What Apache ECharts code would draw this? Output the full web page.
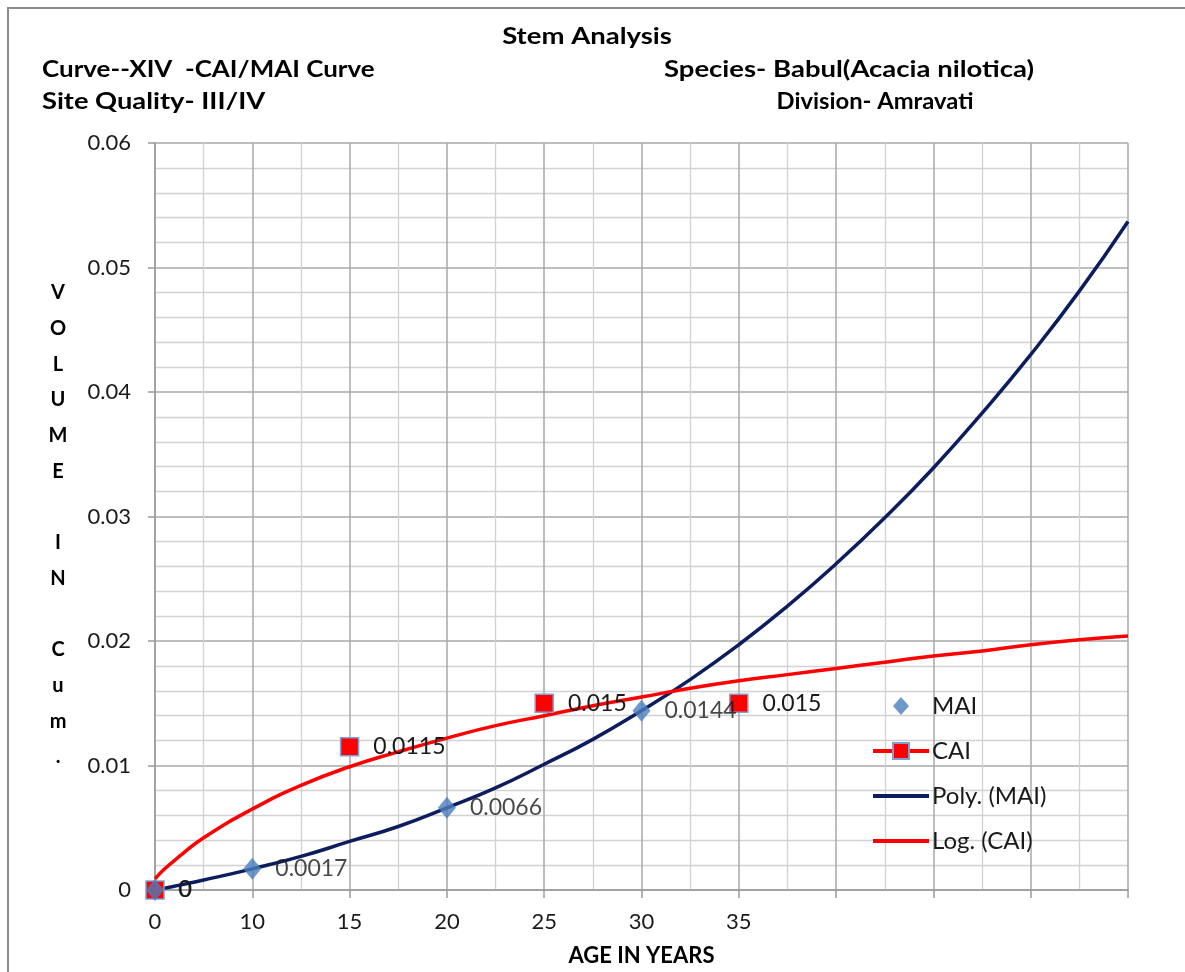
<!DOCTYPE html>
<html>
<head>
<meta charset="utf-8">
<style>
html,body{margin:0;padding:0;background:#fff;overflow:hidden;}
#chart{width:1185px;height:972px;}
</style>
<script src="https://cdn.jsdelivr.net/npm/echarts@6.0.0/dist/echarts.min.js"></script>
</head>
<body>
<div id="chart"></div>
<script>
// ---- data ----
const ageLabels = ['0', '10', '15', '20', '25', '30', '35', '', '', '', ''];
const maiValues = [0, 0.0017, null, 0.0066, null, 0.0144, null];
const caiValues = [0, null, 0.0115, null, 0.015, null, 0.015];
// trend-line readings (x in category steps along the age axis)
const trendSteps = [0, 0.1, 0.25, 0.5, 1, 1.5, 2, 2.5, 3, 3.5, 4, 4.5, 5, 5.5, 6, 6.5, 7, 7.5, 8, 8.5, 9, 9.5, 10];
const polyMaiTrend = [0, 0.00015, 0.00039, 0.0008, 0.0017, 0.0027, 0.0039, 0.0051, 0.0066, 0.0082, 0.0101, 0.0121, 0.0144, 0.0169, 0.0197, 0.0228, 0.0262, 0.0299, 0.0339, 0.0383, 0.0430, 0.0481, 0.0537];
const logCaiTrend = [0.0009, 0.0017, 0.0027, 0.0042, 0.0065, 0.0084, 0.0099, 0.0111, 0.0122, 0.0132, 0.0140, 0.0148, 0.0155, 0.0162, 0.0168, 0.0173, 0.0178, 0.0183, 0.0188, 0.0192, 0.0197, 0.0201, 0.0204];
const yTicks = { min: 0, max: 0.06, interval: 0.01 };

const FONT = 'Lato, "Liberation Sans", sans-serif';
const chart = echarts.init(document.getElementById('chart'), null, { renderer: 'canvas', width: 1185, height: 972 });

const maiData = maiValues.map((v, i) => [i, v]).filter(d => d[1] !== null);
const caiData = caiValues.map((v, i) => [i, v === null ? '-' : v]);
const polyData = trendSteps.map((x, i) => [x, polyMaiTrend[i]]);
const logData = trendSteps.map((x, i) => [x, logCaiTrend[i]]);

const lineIcon = 'path://M0,0M56,20M0,8H56V12H0Z';
const diamondIcon = 'path://M0,0M56,20M28,1L36,10L28,19L20,10Z';
const titleFont = 'bold 22px ' + FONT;

const option = {
  backgroundColor: '#ffffff',
  animation: false,
  textStyle: { fontFamily: FONT },
  graphic: [
    { type: 'rect', shape: { x: 8, y: 8, width: 1200, height: 1000 }, style: { fill: 'none', stroke: '#8c8c8c', lineWidth: 2 }, silent: true },
    { type: 'text', x: 587, y: 37, scaleX: 1.25, style: { text: 'Stem Analysis', font: titleFont, fill: '#000', textAlign: 'center', textVerticalAlign: 'middle' } },
    { type: 'text', x: 42, y: 70, scaleX: 1.18, style: { text: 'Curve--XIV  -CAI/MAI Curve', font: titleFont, fill: '#000', textAlign: 'left', textVerticalAlign: 'middle' } },
    { type: 'text', x: 42, y: 102, scaleX: 1.24, style: { text: 'Site Quality- III/IV', font: titleFont, fill: '#000', textAlign: 'left', textVerticalAlign: 'middle' } },
    { type: 'text', x: 849, y: 70, scaleX: 1.25, style: { text: 'Species- Babul(Acacia nilotica)', font: titleFont, fill: '#000', textAlign: 'center', textVerticalAlign: 'middle' } },
    { type: 'text', x: 875, y: 102, scaleX: 1.08, style: { text: 'Division- Amravati', font: titleFont, fill: '#000', textAlign: 'center', textVerticalAlign: 'middle' } },
    { type: 'text', x: 58, y: 275, style: { text: 'V\nO\nL\nU\nM\nE\n\nI\nN\n\nC\nu\nm\n.', font: 'bold 20px ' + FONT, lineHeight: 35.7, fill: '#000', textAlign: 'center', textVerticalAlign: 'top' } }
  ],
  grid: { left: 155, width: 973, top: 143, height: 754, containLabel: false },
  legend: {
    orient: 'vertical',
    left: 871,
    top: 694,
    padding: 0,
    itemWidth: 56,
    itemHeight: 20,
    itemGap: 21,
    symbolKeepAspect: true,
    lineStyle: { width: 4 },
    textStyle: { fontSize: 24, color: '#1a1a1a', fontFamily: FONT, padding: [0, 0, 0, -2] },
    data: [
      { name: 'MAI', icon: diamondIcon },
      { name: 'CAI' },
      { name: 'Poly. (MAI)', icon: lineIcon },
      { name: 'Log. (CAI)', icon: lineIcon }
    ]
  },
  xAxis: {
    type: 'value',
    min: 0,
    max: ageLabels.length - 1,
    interval: 1,
    name: 'AGE IN YEARS',
    nameLocation: 'middle',
    nameGap: 55,
    nameTextStyle: { fontSize: 22, fontWeight: 'bold', color: '#000', fontFamily: FONT },
    axisLine: { show: true, onZero: false, lineStyle: { color: '#9a9a9a', width: 1.5 } },
    axisTick: { show: true, length: 8, lineStyle: { color: '#9a9a9a', width: 1.5 } },
    axisLabel: {
      margin: 21,
      fontSize: 22,
      color: '#1a1a1a',
      fontFamily: FONT,
      formatter: v => { const i = Math.round(v); return ageLabels[i] !== undefined ? ageLabels[i] : ''; }
    },
    splitLine: { show: true, lineStyle: { color: '#a8a8a8', width: 1.5 } },
    minorTick: { show: false, splitNumber: 2 },
    minorSplitLine: { show: true, lineStyle: { color: '#d2d2d2', width: 1.3 } }
  },
  yAxis: {
    type: 'value',
    min: yTicks.min,
    max: yTicks.max,
    interval: yTicks.interval,
    axisLine: { show: true, lineStyle: { color: '#9a9a9a', width: 1.5 } },
    axisTick: { show: true, length: 7, lineStyle: { color: '#9a9a9a', width: 1.5 } },
    axisLabel: { margin: 24, fontSize: 22, color: '#1a1a1a', fontFamily: FONT },
    splitLine: { show: true, lineStyle: { color: '#a8a8a8', width: 1.5 } },
    minorTick: { show: false, splitNumber: 5 },
    minorSplitLine: { show: true, lineStyle: { color: '#d2d2d2', width: 1.3 } }
  },
  series: [
    {
      name: 'Poly. (MAI)',
      type: 'line',
      data: polyData,
      smooth: 0.5,
      symbol: 'none',
      lineStyle: { color: '#0C1D5F', width: 3.5 },
      itemStyle: { color: '#0C1D5F' },
      z: 3
    },
    {
      name: 'Log. (CAI)',
      type: 'line',
      data: logData,
      smooth: 0.5,
      symbol: 'none',
      lineStyle: { color: '#FF0000', width: 3.5 },
      itemStyle: { color: '#FF0000' },
      z: 3
    },
    {
      name: 'CAI',
      type: 'line',
      data: caiData,
      connectNulls: false,
      symbol: 'rect',
      symbolSize: 18,
      showAllSymbol: true,
      lineStyle: { color: '#FF0000', width: 4 },
      itemStyle: { color: '#FF0000', borderColor: '#7FA0D0', borderWidth: 1.5 },
      label: { show: true, position: 'right', distance: 14, fontSize: 23, color: '#1a1a1a', fontFamily: FONT },
      z: 4
    },
    {
      name: 'MAI',
      type: 'scatter',
      data: maiData,
      symbol: 'diamond',
      symbolSize: [18, 22],
      itemStyle: { color: '#4A7EBB' },
      label: { show: true, position: 'right', distance: 14, fontSize: 23, color: '#1a1a1a', fontFamily: FONT, formatter: p => String(p.value[1]) },
      z: 5
    }
  ]
};
chart.setOption(option);
</script>
</body>
</html>
